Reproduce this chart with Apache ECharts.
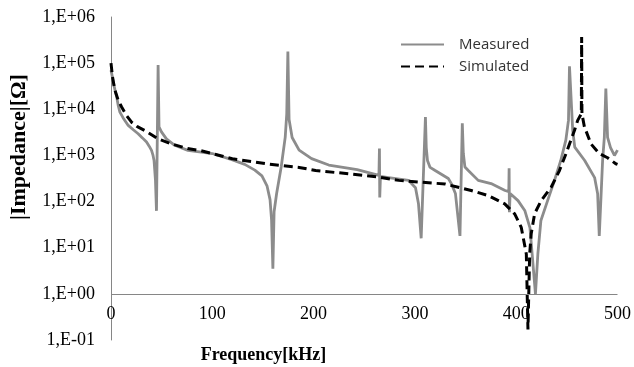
<!DOCTYPE html>
<html>
<head>
<meta charset="utf-8">
<script src="https://cdn.jsdelivr.net/npm/echarts@6/dist/echarts.min.js"></script>
<style>
html,body{margin:0;padding:0;background:#fff;}
#chart{width:634px;height:367px;}
</style>
</head>
<body>
<div id="chart"></div>
<script>
// ---- data ----
var seriesNames = ['Measured', 'Simulated'];
var xTickLabels = ['0', '100', '200', '300', '400', '500'];
var yTickLabels = ['1,E-01', '1,E+00', '1,E+01', '1,E+02', '1,E+03', '1,E+04', '1,E+05', '1,E+06'];
var xTitle = 'Frequency[kHz]';
var yTitle = '|Impedance|[\u03A9]';

var measuredFreq = [0, 1, 2, 4, 5.6, 7, 8.8, 12, 17, 22, 26.8, 31, 35.1, 38, 40, 41.5, 42.5, 43.9, 44.9, 46.5, 47.4, 49.8, 54.7, 62.9, 75.9, 89.1,
  100, 120, 132, 142, 149, 154, 157, 158.5, 159.8, 161, 163.5, 168, 172, 173.5, 174.6, 175.8, 178.8, 185.7, 198, 215, 243, 257,
  264.5, 265, 265.3, 266, 274, 293.7, 300.6, 303.5, 306.2, 310.4, 311.2, 312.4, 315, 320, 333, 336, 340, 344.5, 346.8, 347.8, 349.4, 352.7, 362.5, 375.2, 389,
  392.7, 393, 393.3, 394, 401.8, 408.6, 413.6, 419, 421.4, 424.4, 431, 437.8, 444, 449, 451.6, 452.6, 455.8, 457.8, 467.6, 477.4, 480.4,
  482, 485.3, 487, 488.5, 490.2, 493.1, 497, 500];
var measuredZ = [70000, 55000, 40000, 26000, 18600, 12500, 8700, 6500, 4470, 3600, 2950, 2400, 1950, 1550, 1290, 1000, 776, 288, 63, 91000, 4170, 3240, 2290, 1660, 1290, 1175,
  1100, 800, 640, 480, 360, 220, 110, 40, 3.5, 60, 150, 560, 2500, 8000, 178000, 6000, 2450, 1300, 850, 620, 490, 410,
  370, 1410, 123, 350, 331, 288, 200, 91, 16, 6760, 1500, 780, 550, 470, 316, 245, 150, 18, 5000, 1100, 560, 470, 288, 245, 174,
  165, 525, 59, 150, 105, 63, 27, 1.0, 7.4, 39, 105, 288, 776, 2140, 5750, 85000, 3470, 1510, 776, 331, 148,
  18, 776, 2450, 28000, 2450, 1480, 1000, 1300];

var simulatedFreq = [0, 1.5, 3.9, 7, 10.5, 15, 20.3, 26, 33.4, 46.5, 59.6, 75.6, 89, 119.8, 153, 185.7, 202, 234.8, 264, 284, 306.5, 329.8, 342.8,
  355.6, 372.3, 388.7, 398.5, 405, 410, 411.6, 413.3, 414.8, 418.2, 424.7, 434.5, 442.7, 449.2, 457.5, 460.7, 464.3, 464.6, 464.9,
  467.3, 473.8, 482, 490.2, 498.3, 500];
var simulatedZ = [100000, 50000, 25700, 16000, 11200, 7500, 5250, 4200, 3470, 2290, 1780, 1410, 1260, 850, 660, 550, 470, 400, 340, 288, 263, 240, 204,
  174, 135, 89, 54, 27.5, 7.3, 0.17, 7.3, 20, 55, 105, 204, 470, 1100, 3470, 5750, 8000, 370000, 8000,
  4200, 1780, 1100, 890, 660, 640];

function zip(a, b) { var out = []; for (var i = 0; i < a.length; i++) out.push([a[i], b[i]]); return out; }

var chart = echarts.init(document.getElementById('chart'), null, {renderer: 'canvas'});
var serif = '"Liberation Serif", "Times New Roman", serif';
var option = {
  animation: false,
  backgroundColor: '#ffffff',
  grid: {left: 111, right: 14, top: 17, bottom: 27, containLabel: false},
  legend: {
    orient: 'vertical',
    left: 395, top: 32,
    itemWidth: 43, itemHeight: 14, itemGap: 7,
    itemStyle: {opacity: 0},
    textStyle: {fontFamily: '"Open Sans", sans-serif', fontSize: 15, color: '#333', padding: [0, 0, 0, 10]},
    data: seriesNames
  },
  xAxis: {
    type: 'value', min: 0, max: 500, interval: 100,
    position: 'bottom',
    axisLine: {show: false},
    axisTick: {show: false},
    splitLine: {show: false},
    axisLabel: {
      margin: -35,
      fontFamily: serif, fontSize: 18, color: '#000',
      formatter: function (v) { return xTickLabels[Math.round(v / 100)]; }
    }
  },
  yAxis: {
    type: 'log', logBase: 10, min: 0.1, max: 1000000,
    axisLine: {show: true, lineStyle: {color: '#868686', width: 1}},
    axisTick: {show: false},
    splitLine: {show: false},
    minorTick: {show: false},
    axisLabel: {
      margin: 16,
      fontFamily: serif, fontSize: 18, color: '#000',
      formatter: function (v) { var e = Math.round(Math.log10(v)); return yTickLabels[e + 1]; }
    }
  },
  graphic: [
    {type: 'text', x: 263.5, y: 355, style: {text: xTitle, font: 'bold 18px ' + serif, fill: '#000', align: 'center', verticalAlign: 'middle'}},
    {type: 'text', x: 19, y: 147, rotation: Math.PI / 2, style: {text: yTitle, font: 'bold 22px ' + serif, fill: '#000', align: 'center', verticalAlign: 'middle'}}
  ],
  series: [
    {
      name: seriesNames[0], type: 'line', data: zip(measuredFreq, measuredZ),
      symbol: 'none', showSymbol: false,
      lineStyle: {color: '#8c8c8c', width: 2.8},
      itemStyle: {color: '#8c8c8c'},
      z: 2,
      markLine: {
        silent: true, symbol: 'none', label: {show: false},
        lineStyle: {color: '#868686', width: 1, type: 'solid'},
        data: [{yAxis: 1}]
      }
    },
    {
      name: seriesNames[1], type: 'line', data: zip(simulatedFreq, simulatedZ),
      symbol: 'none', showSymbol: false,
      lineStyle: {color: '#000', width: 3, type: [9, 5]},
      itemStyle: {color: '#000'},
      z: 3
    }
  ]
};
chart.setOption(option);
</script>
</body>
</html>
